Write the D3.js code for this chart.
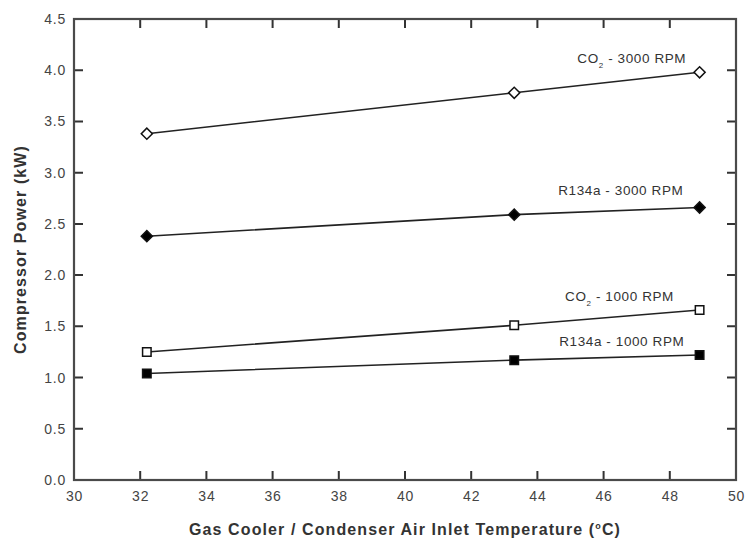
<!DOCTYPE html>
<html>
<head>
<meta charset="utf-8">
<script src="https://cdn.jsdelivr.net/npm/d3@7"></script>
<style>
  body { margin: 0; background: #fff; }
  text { font-family: "Liberation Sans", Arial, sans-serif; }
</style>
</head>
<body>
<div id="chart"></div>
<script>
// data
const temps = [32.2, 43.3, 48.9];
const co2_3000 = [3.38, 3.78, 3.98];
const r134a_3000 = [2.38, 2.59, 2.66];
const co2_1000 = [1.25, 1.51, 1.66];
const r134a_1000 = [1.04, 1.17, 1.22];
const xTicks = [30, 32, 34, 36, 38, 40, 42, 44, 46, 48, 50];
const yTicks = [0, 0.5, 1, 1.5, 2, 2.5, 3, 3.5, 4, 4.5];

const series = [
  { name: "co2_3000", values: co2_3000, shape: "diamond", filled: false },
  { name: "r134a_3000", values: r134a_3000, shape: "diamond", filled: true },
  { name: "co2_1000", values: co2_1000, shape: "square", filled: false },
  { name: "r134a_1000", values: r134a_1000, shape: "square", filled: true }
];

// annotation labels (anchor in data units)
const labels = [
  { main: "CO", sub: "2", rest: " - 3000 RPM", x: 46.85, y: 4.07 },
  { main: "R134a - 3000 RPM", sub: "", rest: "", x: 46.52, y: 2.78 },
  { main: "CO", sub: "2", rest: " - 1000 RPM", x: 46.48, y: 1.75 },
  { main: "R134a - 1000 RPM", sub: "", rest: "", x: 46.55, y: 1.31 }
];

const W = 747, H = 539;
const margin = { left: 74, right: 11, top: 19, bottom: 59 };

const svg = d3.select("#chart").append("svg")
  .attr("width", W)
  .attr("height", H);

const x = d3.scaleLinear().domain([30, 50]).range([margin.left, W - margin.right]);
const y = d3.scaleLinear().domain([0, 4.5]).range([H - margin.bottom, margin.top]);

const axisColor = "#4a4a4a";
const tickLen = 9;

// axes: labels via d3 axis, inward tick marks drawn separately
const axBottom = svg.append("g")
  .attr("transform", `translate(0,${y(0)})`)
  .call(d3.axisBottom(x).tickValues(xTicks).tickSize(0).tickPadding(11).tickFormat(d3.format("d")));
const axLeft = svg.append("g")
  .attr("transform", `translate(${x(30)},0)`)
  .call(d3.axisLeft(y).tickValues(yTicks).tickSize(0).tickPadding(8).tickFormat(d3.format(".1f")));

[axBottom, axLeft].forEach(g => {
  g.select(".domain").remove();
  g.selectAll(".tick text")
    .attr("fill", "#444")
    .style("font-size", "14px")
    .style("letter-spacing", "0.8px");
});

// inward tick marks on all four sides
const tickPath = [];
xTicks.slice(1, -1).forEach(d => {
  tickPath.push(`M${x(d)},${y(0)}v${-tickLen}`);
  tickPath.push(`M${x(d)},${y(4.5)}v${tickLen}`);
});
yTicks.slice(1, -1).forEach(d => {
  tickPath.push(`M${x(30)},${y(d)}h${tickLen}`);
  tickPath.push(`M${x(50)},${y(d)}h${-tickLen}`);
});
svg.append("path")
  .attr("d", tickPath.join(""))
  .attr("fill", "none")
  .attr("stroke", "#333")
  .attr("stroke-width", 2);

// frame
svg.append("rect")
  .attr("x", x(30))
  .attr("y", y(4.5))
  .attr("width", x(50) - x(30))
  .attr("height", y(0) - y(4.5))
  .attr("fill", "none")
  .attr("stroke", axisColor)
  .attr("stroke-width", 2.2);

// lines
const line = d3.line()
  .x((d, i) => x(temps[i]))
  .y(d => y(d));

series.forEach(s => {
  svg.append("path")
    .datum(s.values)
    .attr("fill", "none")
    .attr("stroke", "#222")
    .attr("stroke-width", 1.6)
    .attr("d", line);
});

// markers
series.forEach(s => {
  const sym = d3.symbol()
    .type(d3.symbolSquare)
    .size(s.shape === "diamond" ? 62 : 72);
  svg.append("g").selectAll("path")
    .data(s.values)
    .join("path")
    .attr("d", sym)
    .attr("transform", (d, i) => `translate(${x(temps[i])},${y(d)})` + (s.shape === "diamond" ? " rotate(45)" : ""))
    .attr("fill", s.filled ? "#000" : "#fff")
    .attr("stroke", "#111")
    .attr("stroke-width", 1.5);
});

// annotations
labels.forEach(l => {
  const t = svg.append("text")
    .attr("x", x(l.x))
    .attr("y", y(l.y))
    .attr("text-anchor", "middle")
    .attr("fill", "#333")
    .style("font-size", "13.5px")
    .style("letter-spacing", "0.6px");
  t.append("tspan").text(l.main);
  if (l.sub) {
    t.append("tspan").attr("dy", 5).style("font-size", "8px").text(l.sub);
    t.append("tspan").attr("dy", -5).text(l.rest);
  }
});

// axis titles
svg.append("text")
  .attr("x", (x(30) + x(50)) / 2)
  .attr("y", 535)
  .attr("text-anchor", "middle")
  .attr("fill", "#333")
  .style("font-size", "16px")
  .style("font-weight", "bold")
  .style("letter-spacing", "1.1px")
  .call(t => {
    t.append("tspan").text("Gas Cooler / Condenser Air Inlet Temperature (");
    t.append("tspan").attr("dy", -6).style("font-size", "9px").text("o");
    t.append("tspan").attr("dy", 6).text("C)");
  });

svg.append("text")
  .attr("transform", `translate(26,${(y(0) + y(4.5)) / 2}) rotate(-90)`)
  .attr("text-anchor", "middle")
  .attr("fill", "#333")
  .style("font-size", "16px")
  .style("font-weight", "bold")
  .style("letter-spacing", "1.1px")
  .text("Compressor Power (kW)");
</script>
</body>
</html>
